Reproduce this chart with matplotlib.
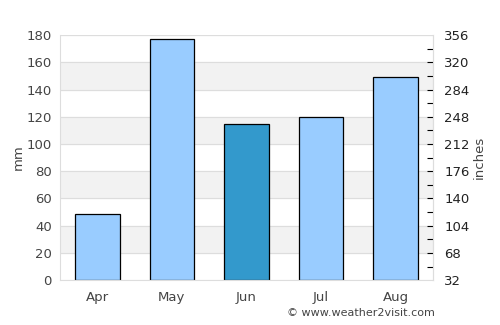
import matplotlib
matplotlib.use("Agg")
import matplotlib.pyplot as plt
from matplotlib.ticker import FixedLocator

months = ["Apr", "May", "Jun", "Jul", "Aug"]
rain_mm = [48.5, 177.5, 114.5, 119.5, 149]
bar_colors = ["#99ccff", "#99ccff", "#3399cc", "#99ccff", "#99ccff"]
left_ticks = [0, 20, 40, 60, 80, 100, 120, 140, 160, 180]
right_labels = ["32", "68", "104", "140", "176", "212", "248", "284", "320", "356"]
minor_ticks = [10, 20, 30, 40, 50, 60, 70, 80, 90, 100, 110, 120, 130, 140, 150, 160, 170]

fig = plt.figure(figsize=(5, 3.25), dpi=100)
ax = fig.add_axes([0.12, 0.138, 0.746, 0.754])
ax.set_xlim(-0.5, 4.5)
ax.set_ylim(0, 180)

for i in range(0, 180, 40):
    ax.axhspan(i + 20, i + 40, color="#f2f2f2", zorder=0)
for t in left_ticks:
    ax.axhline(t, color="#dddddd", lw=0.8, zorder=0.5)

ax.bar(range(len(months)), rain_mm, width=0.6, color=bar_colors,
       edgecolor="black", linewidth=0.9, zorder=2)

ax.set_xticks(range(len(months)))
ax.set_xticklabels(months)
ax.set_yticks(left_ticks)
ax.tick_params(axis="both", length=0, colors="#444444", labelsize=9.5, pad=6)
ax.tick_params(axis="x", pad=8)
ax.spines["top"].set_visible(False)
for s in ["left", "bottom", "right"]:
    ax.spines[s].set_color("#dddddd")
ax.set_ylabel("mm", color="#444444", fontsize=9.5, labelpad=1)

ax2 = ax.twinx()
ax2.set_ylim(0, 180)
ax2.yaxis.remove_overlapping_locs = False
ax2.yaxis.set_major_locator(FixedLocator(left_ticks))
ax2.set_yticklabels(right_labels)
ax2.yaxis.set_minor_locator(FixedLocator(minor_ticks))
ax2.tick_params(axis="y", which="major", length=0, colors="#222222", labelsize=9.5, pad=8)
ax2.tick_params(axis="y", which="minor", direction="in", length=4, width=0.8, colors="black")
for s in ["top", "left", "bottom"]:
    ax2.spines[s].set_visible(False)
ax2.spines["right"].set_color("#dddddd")
ax2.set_ylabel("inches", color="#444444", fontsize=9.5, labelpad=2)

fig.text(0.87, 0.022, "© www.weather2visit.com", ha="right", va="bottom",
         fontsize=8, color="#444444")

fig.savefig("out.png", dpi=100)
